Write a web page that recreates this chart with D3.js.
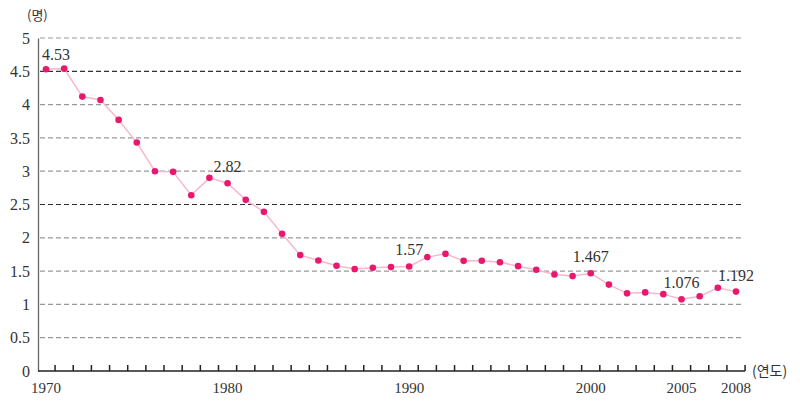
<!DOCTYPE html>
<html>
<head>
<meta charset="utf-8">
<title>합계출산율</title>
<script src="https://d3js.org/d3.v7.min.js"></script>
<style>
  body { margin: 0; background: #fff; }
  text { font-family: "Liberation Serif", "DejaVu Serif", serif; fill: #333; }
  .kr { font-family: "Noto Sans CJK KR", sans-serif; }
</style>
</head>
<body>
<svg width="800" height="409"></svg>
<script>
// data
const years = d3.range(1970, 2009);
const rates = [4.53, 4.54, 4.12, 4.07, 3.77, 3.43, 3.00, 2.99, 2.64, 2.90,
               2.82, 2.57, 2.39, 2.06, 1.74, 1.66, 1.58, 1.53, 1.55, 1.56,
               1.57, 1.71, 1.76, 1.654, 1.656, 1.634, 1.574, 1.520, 1.448, 1.425,
               1.467, 1.297, 1.166, 1.180, 1.154, 1.076, 1.123, 1.250, 1.192];
const yTicks = [0, 0.5, 1, 1.5, 2, 2.5, 3, 3.5, 4, 4.5, 5];
const xLabels = [1970, 1980, 1990, 2000, 2005, 2008];
const labelled = [1970, 1980, 1990, 2000, 2005, 2008];
const labelText = ["4.53", "2.82", "1.57", "1.467", "1.076", "1.192"];

const svg = d3.select("svg");

const x = d3.scaleLinear().domain([1970, 2008]).range([46, 736]);
const y = d3.scaleLinear().domain([0, 5]).range([371, 38]);

// grid
svg.append("g").selectAll("line")
  .data(yTicks.filter(d => d > 0))
  .enter().append("line")
  .attr("x1", 40).attr("x2", 742)
  .attr("y1", d => y(d)).attr("y2", d => y(d))
  .attr("stroke", d => (d === 4.5 || d === 2.5) ? "#333" : "#999")
  .attr("stroke-width", 1.2)
  .attr("stroke-dasharray", "5,3");

// y axis
const yAxis = svg.append("g")
  .attr("transform", "translate(38,0)")
  .call(d3.axisLeft(y).tickValues(yTicks).tickSize(0).tickPadding(8)
    .tickFormat(d => String(d)));
yAxis.select(".domain").attr("stroke", "#666").attr("stroke-width", 1.3);
yAxis.selectAll("text").attr("font-size", 16)
  .attr("font-family", "Liberation Serif, serif").attr("fill", "#333");

// x axis: ticks between years
const xAxis = svg.append("g")
  .attr("transform", "translate(0,371)");
xAxis.append("line")
  .attr("x1", 38).attr("x2", x(2008.5))
  .attr("stroke", "#222").attr("stroke-width", 1.3);
xAxis.selectAll(".tk")
  .data(years)
  .enter().append("line")
  .attr("class", "tk")
  .attr("x1", d => x(d + 0.5)).attr("x2", d => x(d + 0.5))
  .attr("y1", 0).attr("y2", -6)
  .attr("stroke", "#222").attr("stroke-width", 1.5);
xAxis.selectAll(".xl")
  .data(xLabels)
  .enter().append("text")
  .attr("x", d => x(d)).attr("y", 22)
  .attr("text-anchor", "middle")
  .attr("font-size", 15)
  .text(d => d);

// line
svg.append("path")
  .datum(years.map((d, i) => [d, rates[i]]))
  .attr("fill", "none")
  .attr("stroke", "#f7b8cc")
  .attr("stroke-width", 1.5)
  .attr("d", d3.line().x(d => x(d[0])).y(d => y(d[1])));

svg.append("g").selectAll("circle")
  .data(years)
  .enter().append("circle")
  .attr("cx", d => x(d))
  .attr("cy", (d, i) => y(rates[i]))
  .attr("r", 3.3)
  .attr("fill", "#e8186e");

// value labels
svg.append("g").selectAll("text")
  .data(labelled)
  .enter().append("text")
  .attr("x", d => x(d) + (d === 1970 ? 10 : 0))
  .attr("y", d => y(rates[years.indexOf(d)]) - (d === 1970 ? 9 : 11))
  .attr("text-anchor", "middle")
  .attr("font-size", 16)
  .text((d, i) => labelText[i]);

// unit labels
svg.append("text").attr("class", "kr")
  .attr("x", 27).attr("y", 20)
  .attr("font-size", 13)
  .text("(명)");
svg.append("text").attr("class", "kr")
  .attr("x", 752).attr("y", 376)
  .attr("font-size", 14)
  .text("(연도)");
</script>
</body>
</html>
